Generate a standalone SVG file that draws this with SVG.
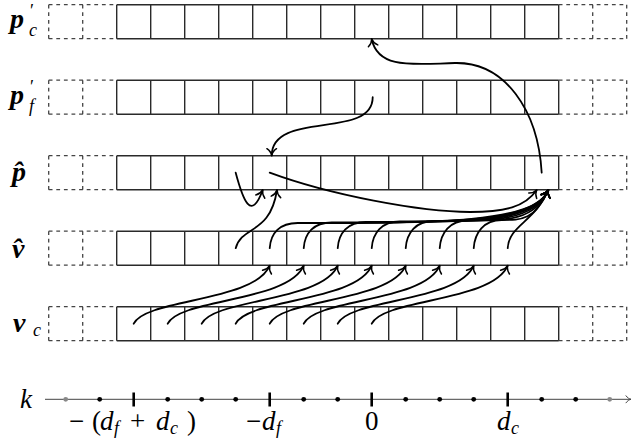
<svg xmlns="http://www.w3.org/2000/svg" xmlns:xlink="http://www.w3.org/1999/xlink" width="642" height="441" viewBox="0 0 642 441">
<style>
.solid{fill:none;stroke:#2a2a2a;stroke-width:1.4}
.dash{fill:none;stroke:#444;stroke-width:1.3;stroke-dasharray:3.8 3.8}
.arr{fill:none;stroke:#000;stroke-width:1.8;stroke-linecap:round;marker-end:url(#ah)}
text{font-family:'Liberation Serif','Times New Roman','DejaVu Serif',serif;fill:#000}
.lbl{font-weight:bold;font-style:italic;font-size:28px}
.sub{font-weight:normal;font-style:italic;font-size:18px}
.pr{font-weight:normal;font-style:normal;font-size:18px}
.ax{font-size:27px}
.axi{font-style:italic}
.axs{font-style:italic;font-size:18px}
.dot{fill:#000}
.gdot{fill:#888}
.tick{stroke:#000;stroke-width:2.6}
</style>
<defs>
<marker id="ah" markerUnits="userSpaceOnUse" markerWidth="16" markerHeight="16" viewBox="-8 -8 16 16" refX="0" refY="0" orient="auto" overflow="visible">
<path d="M-7,-4.8 C-5,-1.8 -2.2,-0.4 0,0 C-2.2,0.4 -5,1.8 -7,4.8" fill="none" stroke="#000" stroke-width="1.5" stroke-linecap="round"/>
</marker>
<marker id="axh" markerUnits="userSpaceOnUse" markerWidth="14" markerHeight="14" viewBox="-7 -7 14 14" refX="0" refY="0" orient="auto" overflow="visible">
<path d="M-5,-3.5 C-3.5,-1.3 -1.5,-0.3 0,0 C-1.5,0.3 -3.5,1.3 -5,3.5" fill="none" stroke="#444" stroke-width="1" stroke-linecap="round"/>
</marker>
<g id="grid">
<path class="solid" d="M116.7,0H558.7M116.7,34H558.7M116.7,0V34M150.7,0V34M184.7,0V34M218.7,0V34M252.7,0V34M286.7,0V34M320.7,0V34M354.7,0V34M388.7,0V34M422.7,0V34M456.7,0V34M490.7,0V34M524.7,0V34M558.7,0V34"/>
<path class="dash" d="M48.7,0H116.7M48.7,34H116.7M558.7,0H626.7M558.7,34H626.7M48.7,0V34M82.7,0V34M592.7,0V34M626.7,0V34"/>
</g>
</defs>
<rect width="642" height="441" fill="#fff"/>

<g id="row-pc">
<use xlink:href="#grid" href="#grid" y="4.7"/>
<text class="lbl" x="10" y="28">p<tspan class="pr" x="30" y="17">′</tspan><tspan class="sub" x="29" y="36">c</tspan></text>
</g>
<g id="row-pf">
<use xlink:href="#grid" href="#grid" y="80.2"/>
<text class="lbl" x="10" y="103.5">p<tspan class="pr" x="30" y="92.5">′</tspan><tspan class="sub" x="29" y="112">f</tspan></text>
</g>
<g id="row-phat">
<use xlink:href="#grid" href="#grid" y="155.7"/>
<text class="lbl" x="12" y="181">p̂</text>
</g>
<g id="row-vhat">
<use xlink:href="#grid" href="#grid" y="231.2"/>
<text class="lbl" x="12" y="257.5">v̂</text>
</g>
<g id="row-vc">
<use xlink:href="#grid" href="#grid" y="306.7"/>
<text class="lbl" x="13" y="332">v<tspan class="sub" x="33" y="336">c</tspan></text>
</g>

<g id="axis">
<line x1="45" y1="399.3" x2="631" y2="399.3" stroke="#444" stroke-width="1" marker-end="url(#axh)"/>
<circle class="gdot" cx="65.7" cy="399.3" r="2.4"/>
<circle class="dot" cx="99.7" cy="399.3" r="2.4"/>
<circle class="dot" cx="167.7" cy="399.3" r="2.4"/>
<circle class="dot" cx="201.7" cy="399.3" r="2.4"/>
<circle class="dot" cx="235.7" cy="399.3" r="2.4"/>
<circle class="dot" cx="303.7" cy="399.3" r="2.4"/>
<circle class="dot" cx="337.7" cy="399.3" r="2.4"/>
<circle class="dot" cx="405.7" cy="399.3" r="2.4"/>
<circle class="dot" cx="439.7" cy="399.3" r="2.4"/>
<circle class="dot" cx="473.7" cy="399.3" r="2.4"/>
<circle class="dot" cx="541.7" cy="399.3" r="2.4"/>
<circle class="dot" cx="575.7" cy="399.3" r="2.4"/>
<circle class="gdot" cx="609.7" cy="399.3" r="2.4"/>
<line class="tick" x1="133.7" y1="392.5" x2="133.7" y2="406.5"/>
<line class="tick" x1="269.7" y1="392.5" x2="269.7" y2="406.5"/>
<line class="tick" x1="371.7" y1="392.5" x2="371.7" y2="406.5"/>
<line class="tick" x1="507.7" y1="392.5" x2="507.7" y2="406.5"/>
<text class="ax axi" x="20" y="408">k</text>
<text class="ax" x="69" y="430">−<tspan x="92">(</tspan><tspan class="axi" x="100">d</tspan><tspan class="axs" x="114" y="434">f</tspan><tspan x="130" y="430">+</tspan><tspan class="axi" x="156">d</tspan><tspan class="axs" x="170" y="434">c</tspan><tspan x="187" y="430">)</tspan></text>
<text class="ax" x="246" y="430">−<tspan class="axi" x="262">d</tspan><tspan class="axs" x="276" y="434">f</tspan></text>
<text class="ax" x="365" y="430">0</text>
<text class="ax axi" x="497" y="430">d<tspan class="axs" x="511" y="434">c</tspan></text>
</g>

<g id="connectors">
<path class="arr" d="M133.7,323.7 c12,-25 121,-22 136,-58"/>
<path class="arr" d="M167.7,323.7 c12,-25 121,-22 136,-58"/>
<path class="arr" d="M201.7,323.7 c12,-25 121,-22 136,-58"/>
<path class="arr" d="M235.7,323.7 c12,-25 121,-22 136,-58"/>
<path class="arr" d="M269.7,323.7 c12,-25 121,-22 136,-58"/>
<path class="arr" d="M303.7,323.7 c12,-25 121,-22 136,-58"/>
<path class="arr" d="M337.7,323.7 c12,-25 121,-22 136,-58"/>
<path class="arr" d="M371.7,323.7 c12,-25 121,-22 136,-58"/>
<path class="arr" d="M269.7,248.2 C270.7,233 279.7,223 297.7,223 C440.1,223 535,223 548.3,190"/>
<path class="arr" d="M303.7,248.2 C304.7,233 313.7,222.5 331.7,222.5 C453.7,222.5 535,222.5 548.3,190"/>
<path class="arr" d="M337.7,248.2 C338.7,233 347.7,222 365.7,222 C467.3,222 535,222 548.3,190"/>
<path class="arr" d="M371.7,248.2 C372.7,233 381.7,221.5 399.7,221.5 C480.9,221.5 535,221.5 548.3,190"/>
<path class="arr" d="M405.7,248.2 C406.7,233 415.7,221 433.7,221 C494.5,221 535,221 548.3,190"/>
<path class="arr" d="M439.7,248.2 C440.7,233 449.7,220.5 467.7,220.5 C508.1,220.5 535,220.5 548.3,190"/>
<path class="arr" d="M473.7,248.2 C474.7,233 483.7,220 501.7,220 C521.7,220 535,220 548.3,190"/>
<path class="arr" d="M507.7,248.2 C509,225 535,222 548.3,190"/>
<path class="arr" d="M235.7,248.2 C242,225 270,235 277,190"/>
<path class="arr" d="M235.7,172.7 C243,200 251,222 262.7,190"/>
<path class="arr" d="M269.7,172.7 C330,195 420,212 470,212 C505,212 525,207 536.7,190"/>
<path class="arr" d="M372.7,97.2 C372.7,140 271.7,110 271.7,155.7"/>
<path class="arr" d="M541.7,172.7 C538,110 505,62 455,63 C415,64 378,70 371.7,39"/>
</g>
</svg>
